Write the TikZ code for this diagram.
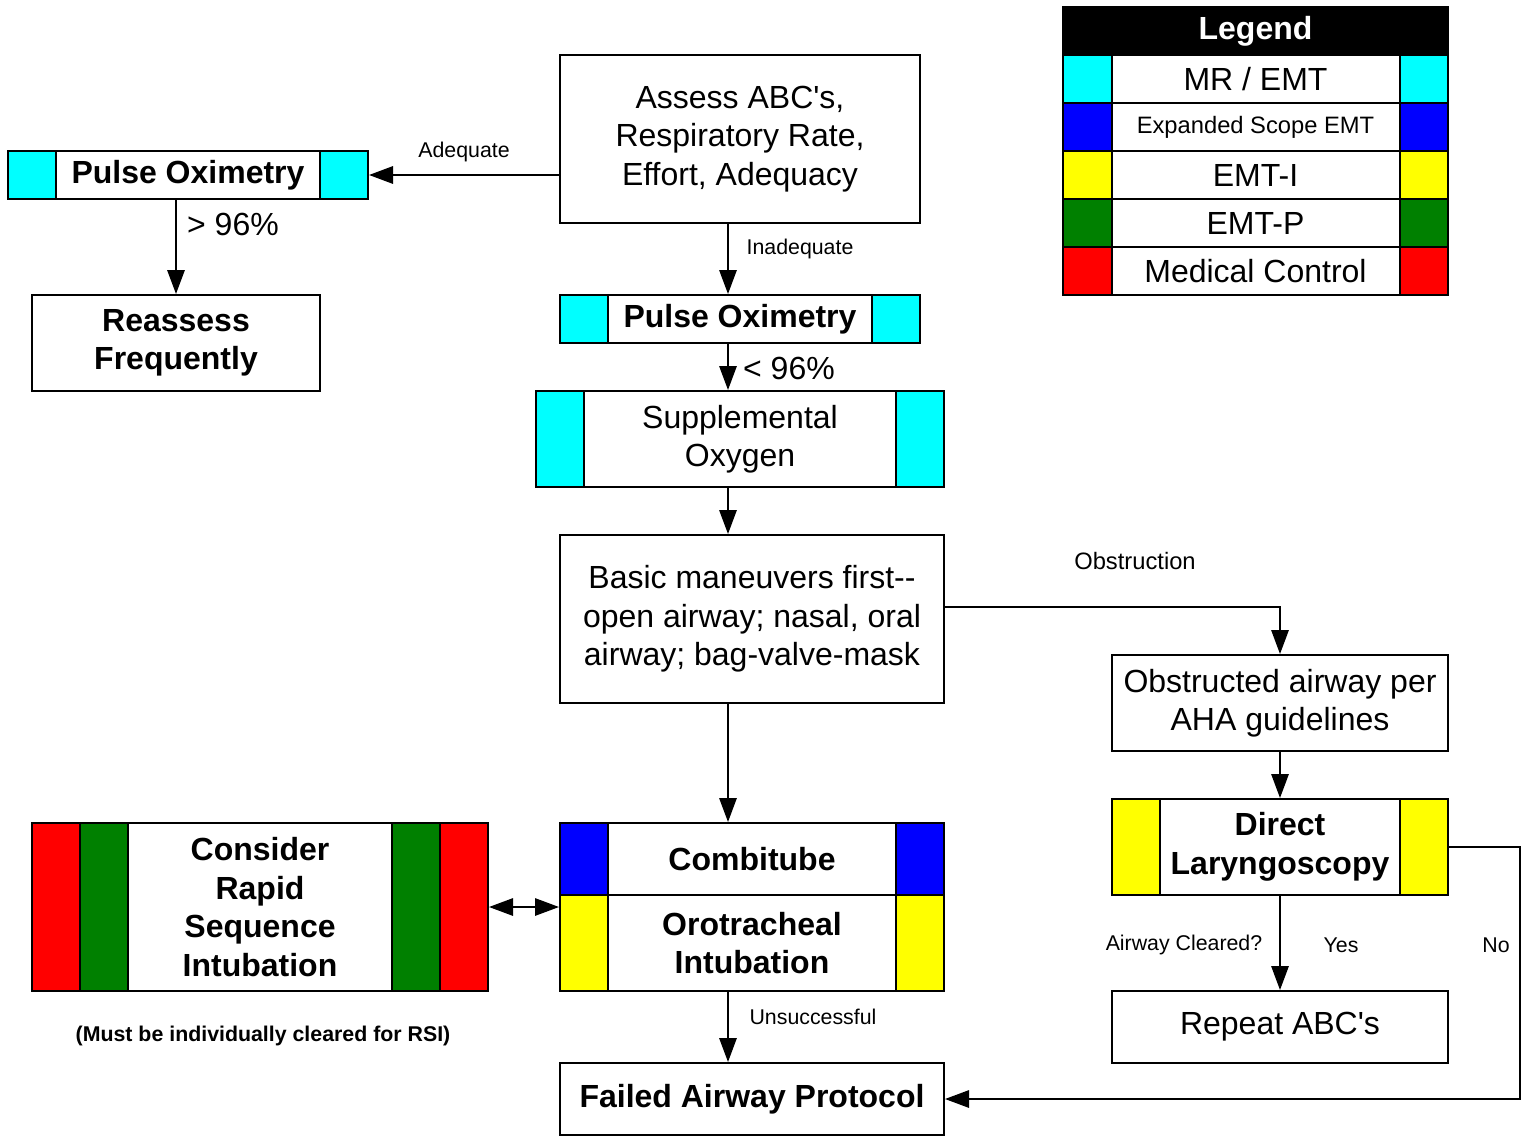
\documentclass[tikz,border=0pt]{standalone}
\usepackage{fontspec}
\setmainfont{Liberation Sans}
\usetikzlibrary{arrows.meta}
\definecolor{cy}{RGB}{0,255,255}
\definecolor{bl}{RGB}{0,0,255}
\definecolor{ye}{RGB}{255,255,0}
\definecolor{gr}{RGB}{0,128,0}
\definecolor{rd}{RGB}{255,0,0}
\begin{document}
\begin{tikzpicture}[x=0.75pt,y=-0.75pt,
  box/.style={draw,line width=1.5pt,fill=white,align=center,inner sep=0pt},
  big/.style={font=\fontsize{24}{28.9}\selectfont},
  bigb/.style={font=\fontsize{24}{28.9}\selectfont\bfseries},
  lab/.style={font=\fontsize{16}{19}\selectfont,inner sep=0pt},
  arr/.style={line width=1.5pt,-{Triangle[length=18pt,width=13pt]}},
  darr/.style={line width=1.5pt,{Triangle[length=18pt,width=13pt]}-{Triangle[length=18pt,width=13pt]}},
  cell/.style={draw,line width=1.5pt}]
\useasboundingbox (0,0) rectangle (1527,1135);
\coordinate (mx) at (728,0);
\coordinate (oy) at (0,607);
\coordinate (rx) at (1520,0);

% Legend
\node[box,fill=black,text=white,bigb,minimum width=288.75pt,minimum height=36pt] (lghead) at (1255.5,31) {Legend};
\node[box,big,minimum width=288.75pt,minimum height=36pt] (lg1) at (1255.5,79) {MR / EMT};
\node[box,font=\fontsize{17.8}{21}\selectfont,minimum width=288.75pt,minimum height=36pt] (lg2) at (1255.5,127) {Expanded Scope EMT};
\node[box,big,minimum width=288.75pt,minimum height=36pt] (lg3) at (1255.5,175) {EMT-I};
\node[box,big,minimum width=288.75pt,minimum height=36pt] (lg4) at (1255.5,223) {EMT-P};
\node[box,big,minimum width=288.75pt,minimum height=36pt] (lg5) at (1255.5,271) {Medical Control};
\filldraw[cell,fill=cy] (1063,55) rectangle (1112,103);
\filldraw[cell,fill=cy] (1400,55) rectangle (1448,103);
\filldraw[cell,fill=bl] (1063,103) rectangle (1112,151);
\filldraw[cell,fill=bl] (1400,103) rectangle (1448,151);
\filldraw[cell,fill=ye] (1063,151) rectangle (1112,199);
\filldraw[cell,fill=ye] (1400,151) rectangle (1448,199);
\filldraw[cell,fill=gr] (1063,199) rectangle (1112,247);
\filldraw[cell,fill=gr] (1400,199) rectangle (1448,247);
\filldraw[cell,fill=rd] (1063,247) rectangle (1112,295);
\filldraw[cell,fill=rd] (1400,247) rectangle (1448,295);

% Main boxes
\node[box,big,minimum width=270pt,minimum height=126pt] (assess) at (740,139) {Assess ABC\textquotesingle s,\\Respiratory Rate,\\Effort, Adequacy};
\node[box,bigb,minimum width=270pt,minimum height=36pt] (po1) at (188,175) {Pulse Oximetry};
\filldraw[cell,fill=cy] (8,151) rectangle (56,199);
\filldraw[cell,fill=cy] (320,151) rectangle (368,199);
\node[box,bigb,minimum width=216pt,minimum height=72pt] (reassess) at (176,343) {Reassess\\Frequently};
\node[box,bigb,minimum width=270pt,minimum height=36pt] (po2) at (740,319) {Pulse Oximetry};
\filldraw[cell,fill=cy] (560,295) rectangle (608,343);
\filldraw[cell,fill=cy] (872,295) rectangle (920,343);
\node[box,big,minimum width=306pt,minimum height=72pt] (supp) at (740,439) {Supplemental\\Oxygen};
\filldraw[cell,fill=cy] (536,391) rectangle (584,487);
\filldraw[cell,fill=cy] (896,391) rectangle (944,487);
\node[box,big,minimum width=288pt,minimum height=126pt] (basic) at (752,619) {Basic maneuvers first-{}-\\open airway; nasal, oral\\airway; bag-valve-mask};
\node[box,big,minimum width=252pt,minimum height=72pt] (obst) at (1280,703) {Obstructed airway per\\AHA guidelines};
\node[box,bigb,minimum width=252pt,minimum height=72pt] (direct) at (1280,847) {Direct\\Laryngoscopy};
\filldraw[cell,fill=ye] (1112,799) rectangle (1160,895);
\filldraw[cell,fill=ye] (1400,799) rectangle (1448,895);
\node[box,big,minimum width=252pt,minimum height=54pt] (repeat) at (1280,1027) {Repeat ABC\textquotesingle s};
\node[box,bigb,minimum width=288pt,minimum height=54pt] (combi) at (752,859) {Combitube};
\node[box,bigb,minimum width=288pt,minimum height=72pt] (oro) at (752,943) {Orotracheal\\Intubation};
\filldraw[cell,fill=bl] (560,823) rectangle (608,895);
\filldraw[cell,fill=bl] (896,823) rectangle (944,895);
\filldraw[cell,fill=ye] (560,895) rectangle (608,991);
\filldraw[cell,fill=ye] (896,895) rectangle (944,991);
\node[box,bigb,minimum width=288pt,minimum height=54pt] (failed) at (752,1099) {Failed Airway Protocol};
\node[box,bigb,minimum width=342pt,minimum height=126pt] (rsi) at (260,907) {Consider\\Rapid\\Sequence\\Intubation};
\filldraw[cell,fill=rd] (32,823) rectangle (80,991);
\filldraw[cell,fill=gr] (80,823) rectangle (128,991);
\filldraw[cell,fill=gr] (392,823) rectangle (440,991);
\filldraw[cell,fill=rd] (440,823) rectangle (488,991);

% Connectors
\draw[arr] (assess.west |- po1.east) -- (po1.east);
\draw[arr] (reassess.north |- po1.south) -- (reassess.north);
\draw[arr] (assess.south -| mx) -- (po2.north -| mx);
\draw[arr] (po2.south -| mx) -- (supp.north -| mx);
\draw[arr] (supp.south -| mx) -- (basic.north -| mx);
\draw[arr] (basic.south -| mx) -- (combi.north -| mx);
\draw[arr] (oro.south -| mx) -- (failed.north -| mx);
\draw[arr] (basic.east |- oy) -| (obst.north);
\draw[arr] (obst.south) -- (direct.north);
\draw[arr] (direct.south) -- (repeat.north);
\draw[arr] (direct.east) -- (direct.east -| rx) |- (failed.east);
\draw[darr] (rsi.east) -- (oro.west |- rsi.east);

% Labels
\node[lab] (l1) at (464,152) {Adequate};
\node[lab] (l2) at (800,249) {Inadequate};
\node[big,inner sep=0pt] (l3) at (233,224) {> 96\%};
\node[big,inner sep=0pt] (l4) at (789,368) {< 96\%};
\node[lab,font=\fontsize{17.8}{21}\selectfont] (l5) at (1135,561) {Obstruction};
\node[lab] (l6) at (1184,945) {Airway Cleared?};
\node[lab] (l7) at (1341,945) {Yes};
\node[lab] (l8) at (1496,945) {No};
\node[lab] (l9) at (813,1017) {Unsuccessful};
\node[lab,font=\fontsize{16}{19}\selectfont\bfseries] (l10) at (263,1036) {(Must be individually cleared for RSI)};
\end{tikzpicture}
\end{document}
